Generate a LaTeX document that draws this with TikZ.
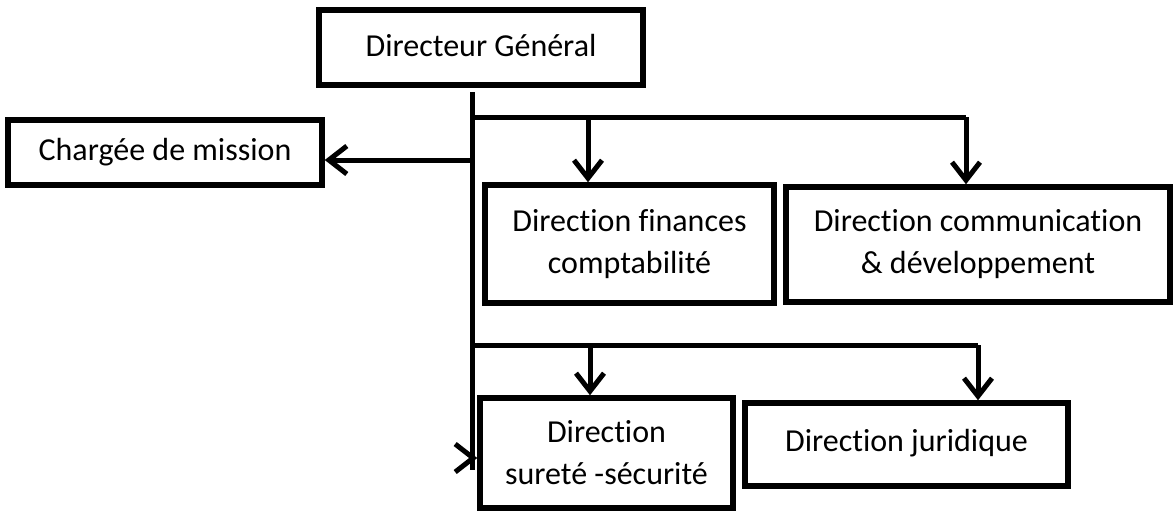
\documentclass[tikz,border=0pt]{standalone}
\usepackage{fontspec}
\setmainfont{Carlito}[Ligatures={NoCommon,NoRare,NoContextual}]
\usetikzlibrary{arrows.meta}
\begin{document}
\begin{tikzpicture}[x=1pt,y=-1pt,
  box/.style={draw=black, line width=5.5pt, fill=white, rectangle, inner sep=0pt, align=center,
    font=\fontsize{32}{42}\selectfont},
  conn/.style={draw=black, line width=5pt},
  arr/.style={conn, -{Straight Barb[length=18pt,width=28pt,line width=5pt]}}]
\useasboundingbox (0,0) rectangle (1173,512);
% boxes
\node[box, minimum width=324pt, minimum height=75pt] (dg) at (481,47.5) {\raisebox{4pt}{Directeur Général}};
\node[box, minimum width=314pt, minimum height=65pt] (cm) at (165,152.5) {Chargée de mission};
\node[box, minimum width=289pt, minimum height=118pt] (fin) at (629.5,244) {Direction finances\\comptabilité};
\node[box, minimum width=384pt, minimum height=115pt] (com) at (978,244.5) {Direction communication\\\& développement};
\node[box, minimum width=253pt, minimum height=110pt] (sur) at (606.5,453) {Direction\\sureté -sécurité};
\node[box, minimum width=323pt, minimum height=83pt] (jur) at (906.5,444.5) {\raisebox{8pt}{Direction juridique}};
% coordinates
\coordinate (t0) at (472,92);
\coordinate (t1) at (472,470);
\coordinate (b1) at (472,117);
\coordinate (b1a) at (588,117);
\coordinate (b1b) at (966,117);
\coordinate (c1) at (472,160);
\coordinate (b2) at (472,345);
\coordinate (b2a) at (590,345);
\coordinate (b2b) at (978,345);
\coordinate (s1) at (472,458);
% connectors
\draw[conn] (t0) -- (t1);
\draw[conn] (b1) -- (b1b);
\draw[arr] (b1b) -- (b1b |- com.north);
\draw[arr] (b1a) -- (b1a |- fin.north);
\draw[arr] (c1) -- (cm.east |- c1);
\draw[conn] (b2) -- (b2b);
\draw[arr] (b2b) -- (b2b |- jur.north);
\draw[arr] (b2a) -- (b2a |- sur.north);
\draw[arr] (s1) -- (sur.west |- s1);
\end{tikzpicture}
\end{document}
